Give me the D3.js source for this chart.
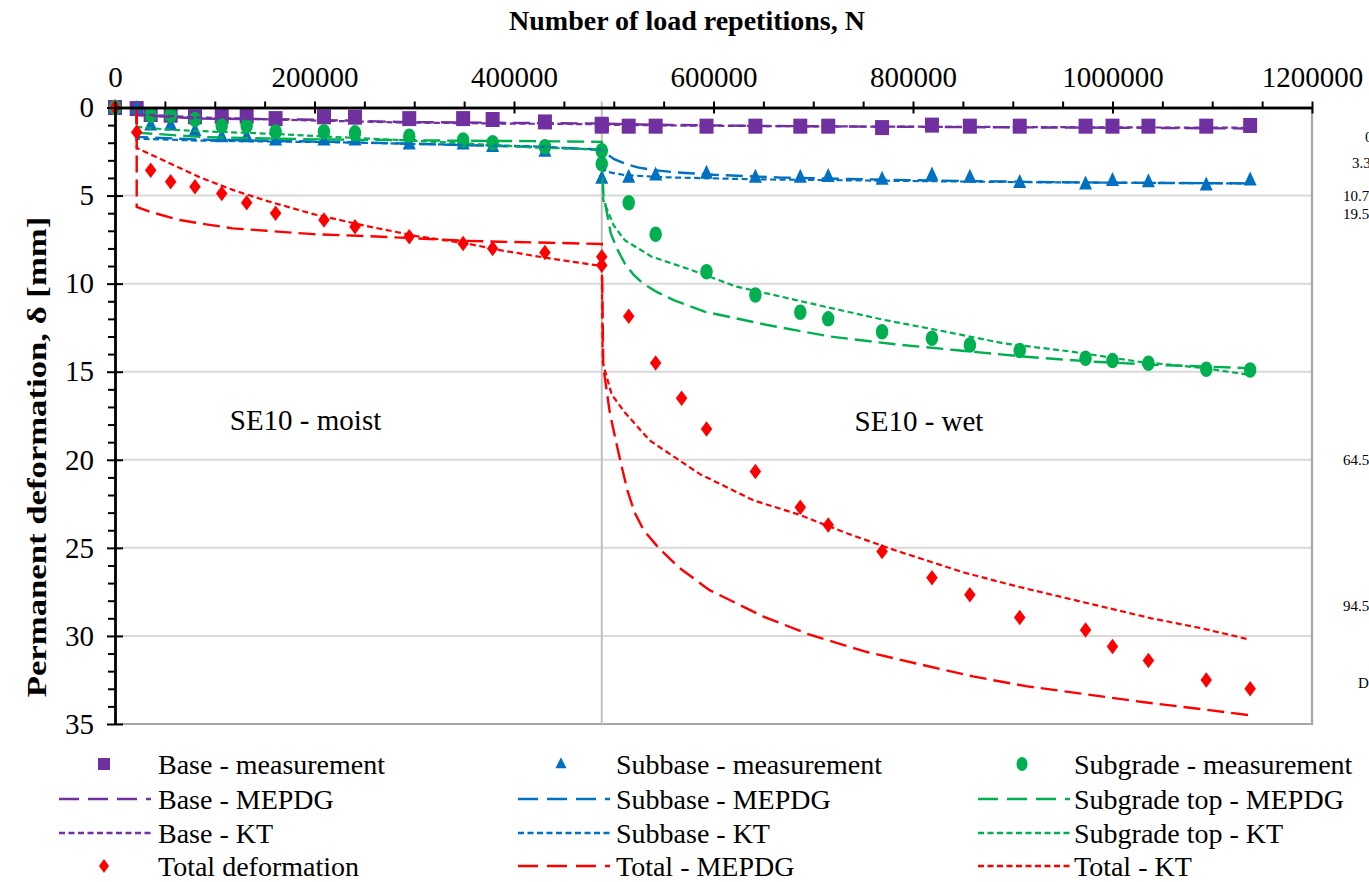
<!DOCTYPE html>
<html>
<head>
<meta charset="utf-8">
<script src="https://cdn.jsdelivr.net/npm/d3@7"></script>
<style>
  html, body { margin: 0; padding: 0; background: #fff; }
  svg { display: block; }
  text { font-family: "Liberation Serif", "Times New Roman", serif; fill: #000; }
</style>
</head>
<body>
<svg id="chart" width="1369" height="882"></svg>
<script>
// ---------- data ----------
const xTicks = [0, 200000, 400000, 600000, 800000, 1000000, 1200000];
const yTicks = [0, 5, 10, 15, 20, 25, 30, 35];

// load repetitions at which layer deformations were measured
const measN = [0, 21750, 35800, 55800, 80200, 107000, 132000, 161000, 209500, 240600,
  295000, 349000, 378600, 431000, 488000,
  488000, 515000, 542000, 568000, 593000, 642000, 687000, 715000, 769000, 819000,
  857000, 907000, 973000, 1000000, 1036000, 1094000, 1138000];

const baseMeas = [0, 0.06, 0.4, 0.44, 0.53, 0.5, 0.5, 0.63, 0.53, 0.55, 0.63, 0.63, 0.68, 0.82, 0.95,
  1.06, 1.06, 1.06, null, 1.06, 1.06, 1.06, 1.06, 1.14, 1.0, 1.06, 1.06, 1.06, 1.06, 1.06, 1.06, 1.02];
const subbaseMeas = [0, 0.06, 1.0, 1.0, 1.33, 1.67, 1.67, 1.85, 1.85, 1.85, 2.08, 2.08, 2.23, 2.5, null,
  4.03, 3.97, 3.84, null, 3.75, 3.97, 3.97, 3.93, 4.08, 3.84, 3.97, 4.27, 4.35, 4.16, 4.22, 4.41, 4.12];
const subgradeMeas = [0, null, 0.44, 0.44, 0.68, 1.04, 1.04, 1.38, 1.38, 1.44, 1.63, 1.85, 2.0, 2.23, 2.45,
  3.2, 5.41, 7.19, null, 9.32, 10.65, 11.63, 12.0, 12.73, 13.1, 13.48, 13.8, 14.24, 14.37, 14.52, 14.86, 14.9];
const totalMeas = [0, 1.4, 3.56, 4.22, 4.5, 4.88, 5.41, 6.0, 6.39, 6.77, 7.34, 7.72, 8.0, 8.23, 8.47,
  8.95, 11.85, 14.5, 16.5, 18.25, 20.67, 22.7, 23.7, 25.2, 26.7, 27.66, 28.95, 29.66, 30.6, 31.4, 32.5, 33.0];

// model predictions, [N, deformation mm]
const baseMEPDG = [[21750,0],[21750,0.44],[25000,0.44],[85000,0.63],[186000,0.68],[286000,0.82],[386000,0.87],[488000,0.91],
  [540000,0.98],[650000,1.05],[800000,1.1],[1000000,1.15],[1137000,1.19]];
const baseKT = [[21750,0],[21750,0.38],[85000,0.57],[186000,0.72],[286000,0.85],[386000,0.91],[488000,0.95],
  [488000,0.98],[560000,1.02],[700000,1.07],[900000,1.11],[1137000,1.15]];

const subbaseMEPDG = [[21750,0],[21750,1.67],[85000,1.82],[152000,1.89],[219000,1.95],[286000,2.04],[352000,2.14],[419000,2.23],[488000,2.38],
  [492000,2.6],[501000,2.95],[512000,3.2],[524000,3.4],[540000,3.55],[560000,3.67],[600000,3.82],[668000,3.98],[735000,4.06],[824000,4.15],[913000,4.22],[1003000,4.27],[1137000,4.31]];
const subbaseKT = [[21750,0],[21750,1.77],[85000,1.88],[152000,1.93],[219000,1.97],[286000,2.05],[352000,2.12],[419000,2.2],[488000,2.42],
  [489000,3.5],[493000,3.65],[511000,3.84],[556000,3.97],[646000,4.08],[780000,4.16],[913000,4.24],[1137000,4.31]];

const subgradeMEPDG = [[21750,0],[21750,1.44],[25000,1.44],[85000,1.67],[152000,1.76],[219000,1.82],[286000,1.85],[352000,1.89],[419000,1.91],[488000,1.95],
  [489500,4.88],[497000,7.15],[504000,8.1],[511000,8.85],[520000,9.5],[529000,9.98],[544000,10.5],[560000,10.93],[591000,11.59],[654000,12.35],[717000,13.0],[780000,13.43],
  [842000,13.77],[913000,14.15],[981000,14.43],[1048000,14.62],[1137000,14.8]];
const subgradeKT = [[21750,0],[21750,1.1],[52000,1.25],[102000,1.38],[152000,1.48],[219000,1.67],[286000,1.85],[352000,2.04],[419000,2.27],[488000,2.38],
  [489500,5.26],[500000,6.7],[511000,7.53],[538000,8.47],[578000,9.23],[623000,10.17],[668000,10.74],[712000,11.31],[771000,12.06],[824000,12.63],
  [891000,13.39],[959000,13.86],[1026000,14.43],[1093000,14.8],[1137000,15.18]];

const totalMEPDG = [[21750,0],[21750,5.64],[35000,5.92],[65000,6.39],[85000,6.58],[118000,6.86],[152000,7.0],[199000,7.19],[253000,7.3],
  [302000,7.43],[352000,7.57],[386000,7.62],[436000,7.68],[488000,7.75],
  [489500,14.7],[496000,17.3],[502000,18.9],[508000,20.4],[514000,21.8],[521000,23.0],[530000,24.0],[545000,25.0],[565000,26.1],[596000,27.4],[650000,28.9],[695000,29.9],[753000,30.9],[806000,31.6],
  [860000,32.3],[913000,32.85],[972000,33.3],[1030000,33.75],[1088000,34.15],[1137000,34.5]];
const totalKT = [[21750,0],[21750,2.33],[23000,2.33],[51800,3.08],[85200,3.97],[118600,4.69],[152000,5.3],[198800,6.05],[252300,6.73],
  [302500,7.3],[352600,7.72],[386000,8.1],[436000,8.57],[488000,9.0],
  [489000,14.5],[498000,16.3],[511000,17.3],[536000,18.9],[586000,20.8],[640000,22.3],[685000,23.1],[735000,24.2],[780000,25.1],[851000,26.4],
  [905000,27.2],[972000,28.1],[1039000,29.0],[1088000,29.55],[1137000,30.2]];

const moistWetBoundary = 488000;
const depthLabels = ["0", "3.3", "10.7", "19.5", "64.5", "94.5", "D"];

// ---------- layout ----------
const svg = d3.select("#chart");
const X0 = 115, X1 = 1312, Y0 = 107.5, Y1 = 724;
const x = d3.scaleLinear().domain([0, 1200000]).range([X0, X1]);
const y = d3.scaleLinear().domain([0, 35]).range([Y0, Y1]);

const C = { base: "#7030a0", subbase: "#0070c0", subgrade: "#00b050", total: "#ff0000" };
const LONG = "17,7", SHORT = "6,3.5";

svg.append("rect").attr("width", 1369).attr("height", 882).attr("fill", "#fff");

// horizontal gridlines
svg.append("g").selectAll("line").data(yTicks.filter(d => d > 0 && d < 35)).join("line")
  .attr("x1", X0).attr("x2", X1).attr("y1", d => y(d)).attr("y2", d => y(d))
  .attr("stroke", "#d9d9d9").attr("stroke-width", 2);

// plot frame (right / bottom)
svg.append("line").attr("x1", X1).attr("x2", X1).attr("y1", Y0).attr("y2", Y1 + 1)
  .attr("stroke", "#a6a6a6").attr("stroke-width", 2.2);
svg.append("line").attr("x1", X0).attr("x2", X1 + 1).attr("y1", Y1).attr("y2", Y1)
  .attr("stroke", "#a6a6a6").attr("stroke-width", 2.2);

// moist / wet boundary
svg.append("line").attr("x1", x(moistWetBoundary)).attr("x2", x(moistWetBoundary))
  .attr("y1", Y0 - 6).attr("y2", Y1).attr("stroke", "#bfbfbf").attr("stroke-width", 2);

// phase labels
svg.append("text").attr("x", x(191000)).attr("y", 430).attr("text-anchor", "middle")
  .style("font-size", "29px").text("SE10 - moist");
svg.append("text").attr("x", x(806000)).attr("y", 431).attr("text-anchor", "middle")
  .style("font-size", "29px").text("SE10 - wet");

// ---------- series ----------
const line = d3.line().x(d => x(d[0])).y(d => y(d[1]));
const pts = vals => measN.map((n, i) => [n, vals[i]]).filter(d => d[1] !== null);

const shapes = {
  square: (w, h) => `M${-w/2},${-h/2}h${w}v${h}h${-w}Z`,
  triangle: (w, h) => `M0,${-h*0.62}L${w/2},${h*0.38}L${-w/2},${h*0.38}Z`,
  ellipse: (w, h) => `M${-w/2},0A${w/2},${h/2} 0 1,0 ${w/2},0A${w/2},${h/2} 0 1,0 ${-w/2},0Z`,
  diamond: (w, h) => `M0,${-h/2}L${w/2},0L0,${h/2}L${-w/2},0Z`
};

function markers(vals, shape, w, h, color) {
  svg.append("g").selectAll("path").data(pts(vals)).join("path")
    .attr("transform", d => `translate(${x(d[0])},${y(d[1])})`)
    .attr("d", shapes[shape](w, h)).attr("fill", color);
}
function curve(data, color, dash, width) {
  svg.append("path").datum(data).attr("d", line).attr("fill", "none")
    .attr("stroke", color).attr("stroke-width", width).attr("stroke-dasharray", dash);
}

markers(baseMeas, "square", 14, 15, C.base);
markers(subbaseMeas, "triangle", 13, 14, C.subbase);
markers(subgradeMeas, "ellipse", 12.5, 15.5, C.subgrade);
curve(baseMEPDG, C.base, LONG, 2.4);
curve(subbaseMEPDG, C.subbase, LONG, 2.4);
curve(subgradeMEPDG, C.subgrade, LONG, 2.4);
curve(baseKT, C.base, SHORT, 2.2);
curve(subbaseKT, C.subbase, SHORT, 2.2);
curve(subgradeKT, C.subgrade, SHORT, 2.2);
markers(totalMeas, "diamond", 11.5, 15.5, C.total);
curve(totalMEPDG, C.total, LONG, 2.4);
curve(totalKT, C.total, SHORT, 2.2);

// ---------- axes ----------
const fmt = d3.format("d");
const xMinor = d3.range(0, 1200001, 50000).filter(d => d % 200000 !== 0);
const yMinor = d3.range(0, 36, 1).filter(d => d % 5 !== 0);

const gxMinor = svg.append("g").attr("transform", `translate(0,${Y0})`)
  .call(d3.axisTop(x).tickValues(xMinor).tickSize(6).tickSizeOuter(0).tickFormat(""));
const gx = svg.append("g").attr("transform", `translate(0,${Y0})`)
  .call(d3.axisTop(x).tickValues(xTicks).tickSize(6).tickSizeOuter(0).tickPadding(15).tickFormat(fmt));
gx.selectAll(".tick").append("line").attr("y2", 6);

const gyMinor = svg.append("g").attr("transform", `translate(${X0},0)`)
  .call(d3.axisLeft(y).tickValues(yMinor).tickSize(7).tickSizeOuter(0).tickFormat(""));
const gy = svg.append("g").attr("transform", `translate(${X0},0)`)
  .call(d3.axisLeft(y).tickValues(yTicks).tickSize(8).tickSizeOuter(0).tickPadding(13).tickFormat(fmt));
gy.selectAll(".tick").append("line").attr("x2", 8);

[gxMinor, gx, gyMinor, gy].forEach(g => {
  g.select(".domain").attr("stroke", "#000").attr("stroke-width", 2.4);
  g.selectAll(".tick line").attr("stroke", "#000").attr("stroke-width", 2);
  g.selectAll(".tick text").style("font-size", "29px").style("font-family", "'Liberation Serif', serif").attr("fill", "#000");
});

// axis titles
svg.append("text").attr("x", 687).attr("y", 30).attr("text-anchor", "middle")
  .style("font-size", "28px").style("font-weight", "bold").text("Number of load repetitions, N");
svg.append("text").attr("transform", "translate(46,457) rotate(-90) scale(1.24,1)").attr("text-anchor", "middle")
  .style("font-size", "28px").style("font-weight", "bold").text("Permanent deformation, δ [mm]");

// layer depth notes on the right edge
const depthPos = [[1365, 137], [1352, 163], [1343, 196], [1343, 214], [1343, 460], [1343, 606], [1358, 683]];
svg.append("g").selectAll("text").data(depthLabels).join("text")
  .attr("x", (d, i) => depthPos[i][0]).attr("y", (d, i) => depthPos[i][1]).attr("dy", "0.35em")
  .style("font-size", "15px").text(d => d);

// ---------- legend ----------
const legendItems = [
  { label: "Base - measurement", color: C.base, marker: ["square", 12, 12] },
  { label: "Subbase - measurement", color: C.subbase, marker: ["triangle", 11, 11] },
  { label: "Subgrade - measurement", color: C.subgrade, marker: ["ellipse", 11, 14] },
  { label: "Base - MEPDG", color: C.base, dash: "20,9" },
  { label: "Subbase - MEPDG", color: C.subbase, dash: "20,9" },
  { label: "Subgrade top - MEPDG", color: C.subgrade, dash: "20,9" },
  { label: "Base - KT", color: C.base, dash: "6,3.5" },
  { label: "Subbase - KT", color: C.subbase, dash: "6,3.5" },
  { label: "Subgrade top - KT", color: C.subgrade, dash: "6,3.5" },
  { label: "Total deformation", color: C.total, marker: ["diamond", 10, 14] },
  { label: "Total - MEPDG", color: C.total, dash: "20,9" },
  { label: "Total - KT", color: C.total, dash: "6,3.5" }
];
const colX = [{ m: 104, l0: 59, l1: 151, t: 158 }, { m: 561, l0: 518, l1: 610, t: 616 }, { m: 1022, l0: 978, l1: 1070, t: 1074 }];
const rowY = [764, 799, 833, 866];

const lg = svg.append("g").selectAll("g").data(legendItems).join("g")
  .attr("transform", (d, i) => `translate(0,${rowY[Math.floor(i / 3)]})`);
lg.each(function (d, i) {
  const g = d3.select(this), c = colX[i % 3];
  if (d.marker) {
    g.append("path").attr("transform", `translate(${c.m},0)`)
      .attr("d", shapes[d.marker[0]](d.marker[1], d.marker[2])).attr("fill", d.color);
  } else {
    g.append("line").attr("x1", c.l0).attr("x2", c.l1).attr("stroke", d.color)
      .attr("stroke-width", 2.5).attr("stroke-dasharray", d.dash);
  }
  g.append("text").attr("x", c.t).attr("dy", "0.35em").style("font-size", "28px").text(d.label);
});
</script>
</body>
</html>
